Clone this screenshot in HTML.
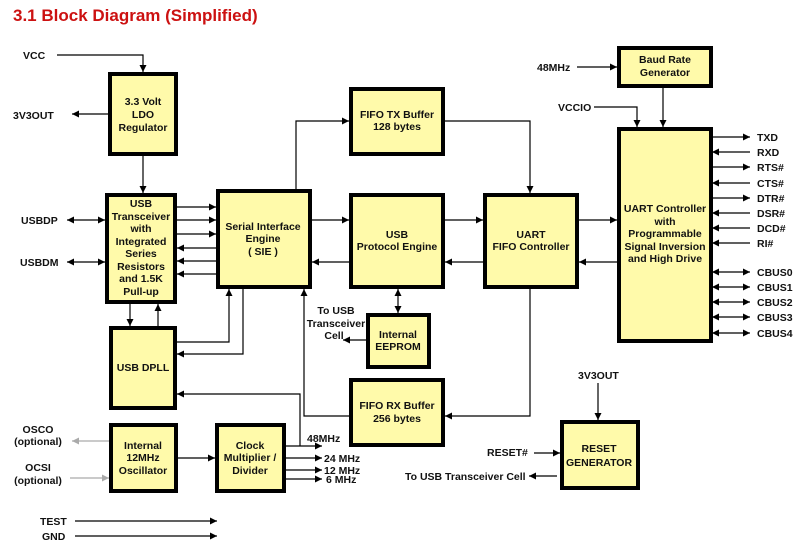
<!DOCTYPE html>
<html><head><meta charset="utf-8"><style>
html,body{margin:0;padding:0;background:#fff;}
svg{display:block;}
text{font-family:"Liberation Sans",Arial,sans-serif;font-weight:bold;font-size:10.5px;fill:#111;}
.b{fill:#fffaaa;stroke:#000;stroke-width:4;}
.l{stroke:#000;stroke-width:1.2;fill:none;}
.g{stroke:#aaa;stroke-width:1.2;fill:none;}
</style></head><body>
<svg width="810" height="550" viewBox="0 0 810 550" xmlns="http://www.w3.org/2000/svg">
<defs>
<marker id="a" viewBox="0 0 10 10" refX="10" refY="5" markerWidth="9" markerHeight="7" orient="auto-start-reverse" markerUnits="userSpaceOnUse"><path d="M0,0 L10,5 L0,10 z" fill="#000"/></marker>
<marker id="ga" viewBox="0 0 10 10" refX="10" refY="5" markerWidth="9" markerHeight="7" orient="auto-start-reverse" markerUnits="userSpaceOnUse"><path d="M0,0 L10,5 L0,10 z" fill="#aaa"/></marker>
</defs>
<text x="13" y="21" style="font-size:17px;fill:#cc1111">3.1 Block Diagram (Simplified)</text>

<rect class="b" x="110" y="74" width="66" height="80"/>
<rect class="b" x="107" y="195" width="68" height="107"/>
<rect class="b" x="111" y="328" width="64" height="80"/>
<rect class="b" x="218" y="191" width="92" height="96"/>
<rect class="b" x="351" y="89" width="92" height="65"/>
<rect class="b" x="351" y="195" width="92" height="92"/>
<rect class="b" x="485" y="195" width="92" height="92"/>
<rect class="b" x="368" y="315" width="61" height="52"/>
<rect class="b" x="351" y="380" width="92" height="65"/>
<rect class="b" x="619" y="48" width="92" height="38"/>
<rect class="b" x="619" y="129" width="92" height="212"/>
<rect class="b" x="562" y="422" width="76" height="66"/>
<rect class="b" x="111" y="425" width="65" height="66"/>
<rect class="b" x="217" y="425" width="67" height="66"/>

<g text-anchor="middle">
<text x="143" y="105">3.3 Volt</text><text x="143" y="118">LDO</text><text x="143" y="131">Regulator</text>
<text x="141" y="207">USB</text><text x="141" y="220">Transceiver</text><text x="141" y="232">with</text><text x="141" y="245">Integrated</text><text x="141" y="257">Series</text><text x="141" y="270">Resistors</text><text x="141" y="282">and 1.5K</text><text x="141" y="295">Pull-up</text>
<text x="143" y="371">USB DPLL</text>
<text x="263" y="230">Serial Interface</text><text x="263" y="242">Engine</text><text x="263" y="255">( SIE )</text>
<text x="397" y="118">FIFO TX Buffer</text><text x="397" y="130">128 bytes</text>
<text x="397" y="238">USB</text><text x="397" y="250">Protocol Engine</text>
<text x="531" y="238">UART</text><text x="531" y="250">FIFO Controller</text>
<text x="398" y="338">Internal</text><text x="398" y="350">EEPROM</text>
<text x="397" y="409">FIFO RX Buffer</text><text x="397" y="422">256 bytes</text>
<text x="665" y="63">Baud Rate</text><text x="665" y="76">Generator</text>
<text x="665" y="212">UART Controller</text><text x="665" y="225">with</text><text x="665" y="237">Programmable</text><text x="665" y="250">Signal Inversion</text><text x="665" y="262">and High Drive</text>
<text x="599" y="452">RESET</text><text x="599" y="466">GENERATOR</text>
<text x="143" y="449">Internal</text><text x="143" y="461">12MHz</text><text x="143" y="474">Oscillator</text>
<text x="250" y="449">Clock</text><text x="250" y="461">Multiplier /</text><text x="250" y="474">Divider</text>
<text x="336" y="314">To USB</text><text x="336" y="327">Transceiver</text><text x="334" y="339">Cell</text>
<text x="38" y="433">OSCO</text><text x="38" y="445">(optional)</text>
<text x="38" y="471">OCSI</text><text x="38" y="484">(optional)</text>
</g>

<text x="23" y="59">VCC</text>
<text x="13" y="119">3V3OUT</text>
<text x="21" y="224">USBDP</text>
<text x="20" y="266">USBDM</text>
<text x="40" y="525">TEST</text>
<text x="42" y="540">GND</text>
<text x="537" y="71">48MHz</text>
<text x="558" y="111">VCCIO</text>
<text x="578" y="379">3V3OUT</text>
<text x="487" y="456">RESET#</text>
<text x="405" y="480">To USB Transceiver Cell</text>
<text x="307" y="442">48MHz</text>
<text x="324" y="462">24 MHz</text>
<text x="324" y="474">12 MHz</text>
<text x="326" y="483">6 MHz</text>

<g class="l">
<path d="M57,55 H143 V72" marker-end="url(#a)"/>
<path d="M108,114 H72" marker-end="url(#a)"/>
<path d="M143,155 V193" marker-end="url(#a)"/>
<path d="M67,220 H105" marker-start="url(#a)" marker-end="url(#a)"/>
<path d="M67,262 H105" marker-start="url(#a)" marker-end="url(#a)"/>
<path d="M177,207 H216" marker-end="url(#a)"/>
<path d="M177,220 H216" marker-end="url(#a)"/>
<path d="M177,234 H216" marker-end="url(#a)"/>
<path d="M216,248 H177" marker-end="url(#a)"/>
<path d="M216,261 H177" marker-end="url(#a)"/>
<path d="M216,274 H177" marker-end="url(#a)"/>
<path d="M130,304 V326" marker-end="url(#a)"/>
<path d="M158,326 V304" marker-end="url(#a)"/>
<path d="M177,342 H229 V289" marker-end="url(#a)"/>
<path d="M243,289 V354 H177" marker-end="url(#a)"/>
<path d="M300,446 V394 H177" marker-end="url(#a)"/>
<path d="M349,416 H304 V289" marker-end="url(#a)"/>
<path d="M296,189 V121 H349" marker-end="url(#a)"/>
<path d="M312,220 H349" marker-end="url(#a)"/>
<path d="M349,262 H312" marker-end="url(#a)"/>
<path d="M445,220 H483" marker-end="url(#a)"/>
<path d="M483,262 H445" marker-end="url(#a)"/>
<path d="M445,121 H530 V193" marker-end="url(#a)"/>
<path d="M530,289 V416 H445" marker-end="url(#a)"/>
<path d="M579,220 H617" marker-end="url(#a)"/>
<path d="M617,262 H579" marker-end="url(#a)"/>
<path d="M398,289 V313" marker-start="url(#a)" marker-end="url(#a)"/>
<path d="M366,340 H343" marker-end="url(#a)"/>
<path d="M577,67 H617" marker-end="url(#a)"/>
<path d="M663,87 V127" marker-end="url(#a)"/>
<path d="M594,107 H637 V127" marker-end="url(#a)"/>
<path d="M712,137 H750" marker-end="url(#a)"/>
<path d="M750,152 H712" marker-end="url(#a)"/>
<path d="M712,167 H750" marker-end="url(#a)"/>
<path d="M750,183 H712" marker-end="url(#a)"/>
<path d="M712,198 H750" marker-end="url(#a)"/>
<path d="M750,213 H712" marker-end="url(#a)"/>
<path d="M750,228 H712" marker-end="url(#a)"/>
<path d="M750,243 H712" marker-end="url(#a)"/>
<path d="M712,272 H750" marker-start="url(#a)" marker-end="url(#a)"/>
<path d="M712,287 H750" marker-start="url(#a)" marker-end="url(#a)"/>
<path d="M712,302 H750" marker-start="url(#a)" marker-end="url(#a)"/>
<path d="M712,317 H750" marker-start="url(#a)" marker-end="url(#a)"/>
<path d="M712,333 H750" marker-start="url(#a)" marker-end="url(#a)"/>
<path d="M598,383 V420" marker-end="url(#a)"/>
<path d="M534,453 H560" marker-end="url(#a)"/>
<path d="M557,476 H529" marker-end="url(#a)"/>
<path d="M177,458 H215" marker-end="url(#a)"/>
<path d="M285,446 H322" marker-end="url(#a)"/>
<path d="M285,458 H322" marker-end="url(#a)"/>
<path d="M285,470 H322" marker-end="url(#a)"/>
<path d="M285,479 H322" marker-end="url(#a)"/>
<path d="M75,521 H217" marker-end="url(#a)"/>
<path d="M75,536 H217" marker-end="url(#a)"/>
</g>
<g class="g">
<path d="M109,441 H72" marker-end="url(#ga)"/>
<path d="M70,478 H109" marker-end="url(#ga)"/>
</g>
<text x="757" y="141">TXD</text><text x="757" y="156">RXD</text><text x="757" y="171">RTS#</text><text x="757" y="187">CTS#</text>
<text x="757" y="202">DTR#</text><text x="757" y="217">DSR#</text><text x="757" y="232">DCD#</text><text x="757" y="247">RI#</text>
<text x="757" y="276">CBUS0</text><text x="757" y="291">CBUS1</text><text x="757" y="306">CBUS2</text><text x="757" y="321">CBUS3</text><text x="757" y="337">CBUS4</text>
</svg>
</body></html>
